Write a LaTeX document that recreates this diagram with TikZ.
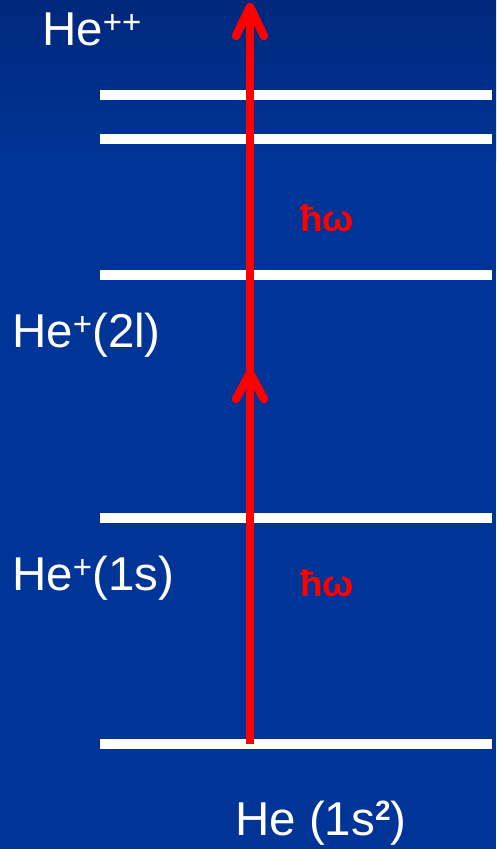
\documentclass[tikz,border=0pt]{standalone}
\usepackage{fontspec}
\setmainfont{Liberation Sans}
\definecolor{bgblue}{RGB}{0,52,150}
\definecolor{bgtop}{RGB}{0,40,124}
\newcommand\plussup{\raisebox{12pt}{\fontsize{33}{33}\selectfont +}}
\newcommand\twosup{\raisebox{15pt}{\fontsize{28}{28}\selectfont\bfseries 2}}
\begin{document}
\begin{tikzpicture}[x=1pt,y=-1pt,
  level/.style={draw=white,line width=10pt},
  lbl/.style={text=white,font=\fontsize{47.5}{50}\selectfont,anchor=base west,inner sep=0pt},
  hw/.style={text=red,font=\bfseries\fontsize{37}{40}\selectfont,inner sep=0pt},
  photon/.style={draw=red,line width=8.5pt},
  head/.style={draw=red,line width=8.5pt,line cap=round,line join=round}]
\useasboundingbox (0,0) rectangle (496,849);
\fill[bgblue] (0,0) rectangle (496,849);
\shade[top color=bgtop,bottom color=bgblue] (0,0) rectangle (496,160);
% levels
\foreach \n/\y in {l1/95,l2/139,l3/275,l4/518,l5/744}{
  \coordinate (\n a) at (100,\y);
  \coordinate (\n b) at (492,\y);
  \draw[level] (\n a) -- (\n b);
}
% labels
\node[lbl] (heplusplus) at (42,45) {He\plussup\plussup};
\node[lbl] (he2l) at (12,347) {He\plussup(2l)};
\node[lbl] (he1s) at (12,590) {He\plussup(1s)};
\node[lbl] (heg) at (235,835) {He (1s\twosup)};
\node[hw] (hw1) at (327,218) {ħω};
\node[hw] (hw2) at (327,583) {ħω};
% photon arrow
\coordinate (start) at (250,744);
\coordinate (tip) at (250,7);
\coordinate (mid) at (250,373);
\draw[photon] (start) -- (tip);
\draw[head] (236,36) -- (tip) -- (264,36);
\draw[head] (236,399) -- (mid) -- (264,399);
\end{tikzpicture}
\end{document}
